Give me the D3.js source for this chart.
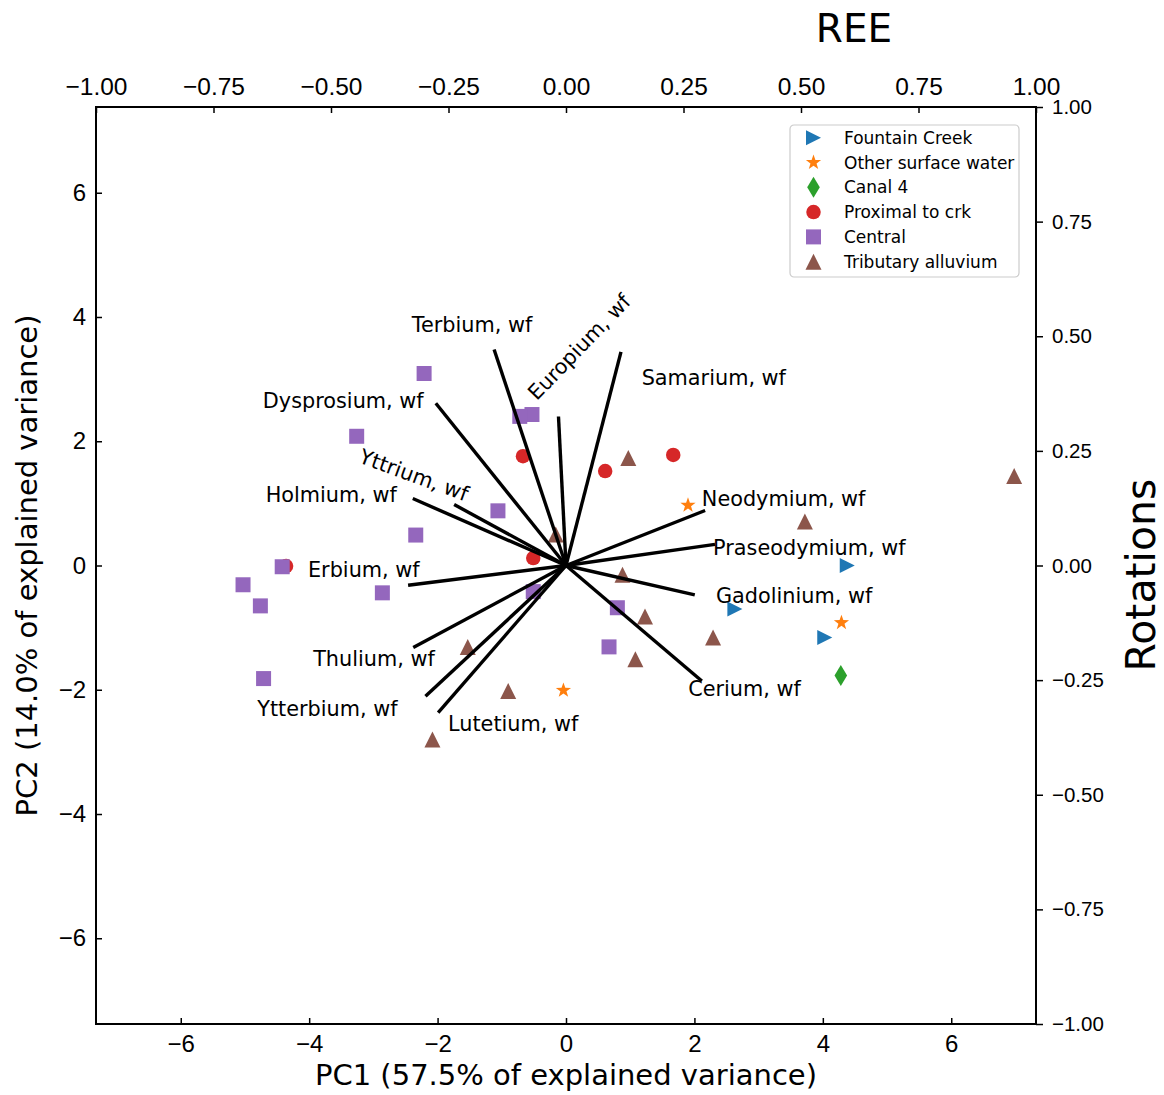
<!DOCTYPE html>
<html>
<head>
<meta charset="utf-8">
<script src="https://cdn.jsdelivr.net/npm/d3@7"></script>
<style>
  body { margin: 0; background: #fff; }
  svg { font-family: "DejaVu Sans", sans-serif; }
</style>
</head>
<body>
<div id="chart"></div>
<script>
// sample scores (PC1, PC2) per group
const groups = ['Fountain Creek', 'Other surface water', 'Canal 4', 'Proximal to crk', 'Central', 'Tributary alluvium'];
const fountainCreek = [[4.38, 0.00], [2.63, -0.70], [4.03, -1.16]];
const otherSurface = [[1.90, 0.97], [4.29, -0.92], [-0.04, -2.01]];
const canal4 = [[4.28, -1.77]];
const proximal = [[1.67, 1.78], [0.61, 1.52], [-0.67, 1.76], [-0.51, 0.12], [-4.36, -0.01]];
const central = [[-2.21, 3.09], [-0.53, 2.43], [-0.72, 2.40], [-3.26, 2.08], [-1.06, 0.88], [-2.34, 0.49],
                 [-4.42, -0.02], [-5.03, -0.31], [-4.76, -0.65], [-2.86, -0.44], [-0.51, -0.42],
                 [0.80, -0.68], [0.67, -1.31], [-4.71, -1.82]];
const tributary = [[6.98, 1.44], [0.97, 1.73], [3.72, 0.71], [-0.16, 0.50], [0.88, -0.15], [1.23, -0.82],
                   [2.29, -1.16], [1.08, -1.51], [-1.53, -1.31], [-0.90, -2.02], [-2.08, -2.80]];

// loadings (rotations) of each variable
const variables = ['Terbium, wf', 'Europium, wf', 'Samarium, wf', 'Dysprosium, wf', 'Yttrium, wf', 'Holmium, wf',
                   'Erbium, wf', 'Thulium, wf', 'Ytterbium, wf', 'Lutetium, wf', 'Cerium, wf', 'Gadolinium, wf',
                   'Praseodymium, wf', 'Neodymium, wf'];
const rotPC1 = [-0.153, -0.016, 0.117, -0.277, -0.238, -0.326, -0.336, -0.325, -0.299, -0.272, 0.289, 0.274, 0.317, 0.296];
const rotPC2 = [0.471, 0.325, 0.466, 0.354, 0.133, 0.146, -0.043, -0.179, -0.285, -0.321, -0.252, -0.064, 0.046, 0.120];
// where the variable names were written (rotation units) and their angle
const labelAt = [[-0.328, 0.509], [-0.062, 0.358], [0.161, 0.394], [-0.645, 0.344], [-0.443, 0.225], [-0.639, 0.138],
                 [-0.549, -0.024], [-0.538, -0.220], [-0.657, -0.329], [-0.251, -0.362], [0.260, -0.285], [0.319, -0.081],
                 [0.313, 0.022], [0.289, 0.129]];
const labelAngle = [0, -46, 0, 0, 20, 0, 0, 0, 0, 0, 0, 0, 0, 0];

const pcTicks = [-6, -4, -2, 0, 2, 4, 6];
const rotTicks = [-1, -0.75, -0.5, -0.25, 0, 0.25, 0.5, 0.75, 1];

const colors = ['#1f77b4', '#ff7f0e', '#2ca02c', '#d62728', '#9467bd', '#8c564b'];

const width = 1164, height = 1095;
const margin = {top: 107, right: 128, bottom: 71, left: 96};

const svg = d3.select('#chart').append('svg')
    .attr('width', width)
    .attr('height', height);

const x = d3.scaleLinear([-7.32, 7.32], [margin.left, width - margin.right]);
const y = d3.scaleLinear([-7.38, 7.38], [height - margin.bottom, margin.top]);
const xr = d3.scaleLinear([-1, 1], [margin.left, width - margin.right]);
const yr = d3.scaleLinear([-1, 1], [height - margin.bottom, margin.top]);

// marker shapes, centred on 0,0
function triUp(s) { const p = d3.path(); p.moveTo(0, -s / 2); p.lineTo(s / 2, s / 2); p.lineTo(-s / 2, s / 2); p.closePath(); return p.toString(); }
function triRight(s) { const p = d3.path(); p.moveTo(s / 2, 0); p.lineTo(-s / 2, -s / 2); p.lineTo(-s / 2, s / 2); p.closePath(); return p.toString(); }
function square(s) { const p = d3.path(); p.rect(-s / 2, -s / 2, s, s); return p.toString(); }
function circle(s) { const p = d3.path(); p.arc(0, 0, s / 2, 0, 2 * Math.PI); p.closePath(); return p.toString(); }
function diamond(s) { const p = d3.path(); p.moveTo(0, -s / 2); p.lineTo(s * 0.3, 0); p.lineTo(0, s / 2); p.lineTo(-s * 0.3, 0); p.closePath(); return p.toString(); }
function star(s) {
    const p = d3.path();
    for (let i = 0; i < 10; i++) {
        const r = i % 2 === 0 ? s / 2 : s / 2 * 0.4;
        const a = -Math.PI / 2 + i * Math.PI / 5;
        if (i === 0) p.moveTo(r * Math.cos(a), r * Math.sin(a));
        else p.lineTo(r * Math.cos(a), r * Math.sin(a));
    }
    p.closePath();
    return p.toString();
}
const shapes = [triRight(15), star(16), diamond(21), circle(14.5), square(15), triUp(16)];
const series = [fountainCreek, otherSurface, canal4, proximal, central, tributary];

// axes
const fmtRot = d3.format('.2f');
svg.append('g')
    .attr('transform', `translate(0,${height - margin.bottom})`)
    .call(d3.axisBottom(x).tickValues(pcTicks).tickSizeInner(-6).tickSizeOuter(0).tickPadding(11).tickFormat(d3.format('d')))
    .call(g => g.selectAll('text').style('font-size', '24px'));
svg.append('g')
    .attr('transform', `translate(${margin.left},0)`)
    .call(d3.axisLeft(y).tickValues(pcTicks).tickSizeInner(-6).tickSizeOuter(0).tickPadding(10).tickFormat(d3.format('d')))
    .call(g => g.selectAll('text').style('font-size', '24px'));
svg.append('g')
    .attr('transform', `translate(0,${margin.top})`)
    .call(d3.axisTop(xr).tickValues(rotTicks).tickSizeInner(-6).tickSizeOuter(0).tickPadding(12).tickFormat(fmtRot))
    .call(g => g.selectAll('text').style('font-size', '24.5px'));
svg.append('g')
    .attr('transform', `translate(${width - margin.right},0)`)
    .call(d3.axisRight(yr).tickValues(rotTicks).tickSizeInner(7).tickSizeOuter(0).tickPadding(9).tickFormat(fmtRot))
    .call(g => g.selectAll('text').style('font-size', '20.5px'));
svg.selectAll('.domain').remove();
svg.selectAll('.tick line').attr('stroke', '#000').attr('stroke-width', 1.5);
svg.selectAll('.tick text').attr('fill', '#000');

// frame
svg.append('rect')
    .attr('x', margin.left).attr('y', margin.top)
    .attr('width', width - margin.left - margin.right)
    .attr('height', height - margin.top - margin.bottom)
    .attr('fill', 'none').attr('stroke', '#000').attr('stroke-width', 2);

// sample points
const points = svg.append('g');
series.forEach((pts, i) => {
    points.selectAll(null)
        .data(pts)
        .join('path')
        .attr('d', shapes[i])
        .attr('transform', d => `translate(${x(d[0])},${y(d[1])})`)
        .attr('fill', colors[i]);
});

// loading vectors
const vecs = variables.map((v, i) => ({name: v, px: rotPC1[i], py: rotPC2[i], at: labelAt[i], angle: labelAngle[i]}));
svg.append('g').selectAll('line')
    .data(vecs)
    .join('line')
    .attr('x1', xr(0)).attr('y1', yr(0))
    .attr('x2', d => xr(d.px)).attr('y2', d => yr(d.py))
    .attr('stroke', '#000').attr('stroke-width', 3.4).attr('stroke-linecap', 'butt');

svg.append('g').selectAll('text')
    .data(vecs)
    .join('text')
    .attr('transform', d => `translate(${xr(d.at[0])},${yr(d.at[1])}) rotate(${d.angle})`)
    .style('font-size', '20.8px')
    .attr('fill', '#000')
    .text(d => d.name);

// titles
svg.append('text')
    .attr('x', 854).attr('y', 42)
    .attr('text-anchor', 'middle')
    .style('font-size', '39px')
    .text('REE');
svg.append('text')
    .attr('x', x(0)).attr('y', 1085)
    .attr('text-anchor', 'middle')
    .style('font-size', '29px')
    .text('PC1 (57.5% of explained variance)');
svg.append('text')
    .attr('transform', `translate(37,${y(0)}) rotate(-90)`)
    .attr('text-anchor', 'middle')
    .style('font-size', '29px')
    .text('PC2 (14.0% of explained variance)');
svg.append('text')
    .attr('transform', `translate(1155,575) rotate(-90)`)
    .attr('text-anchor', 'middle')
    .style('font-size', '41px')
    .text('Rotations');

// legend
const legend = svg.append('g').attr('transform', 'translate(790,125)');
legend.append('rect')
    .attr('width', 229).attr('height', 152)
    .attr('rx', 4)
    .attr('fill', '#fff').attr('fill-opacity', 0.8)
    .attr('stroke', '#ccc').attr('stroke-width', 1.2);
const rows = legend.selectAll('g.row')
    .data(groups)
    .join('g')
    .attr('class', 'row')
    .attr('transform', (d, i) => `translate(0,${12.7 + i * 24.8})`);
rows.append('path')
    .attr('d', (d, i) => shapes[i])
    .attr('transform', 'translate(23.5,0)')
    .attr('fill', (d, i) => colors[i]);
rows.append('text')
    .attr('x', 54).attr('dy', '0.36em')
    .style('font-size', '17px')
    .text(d => d);
</script>
</body>
</html>
